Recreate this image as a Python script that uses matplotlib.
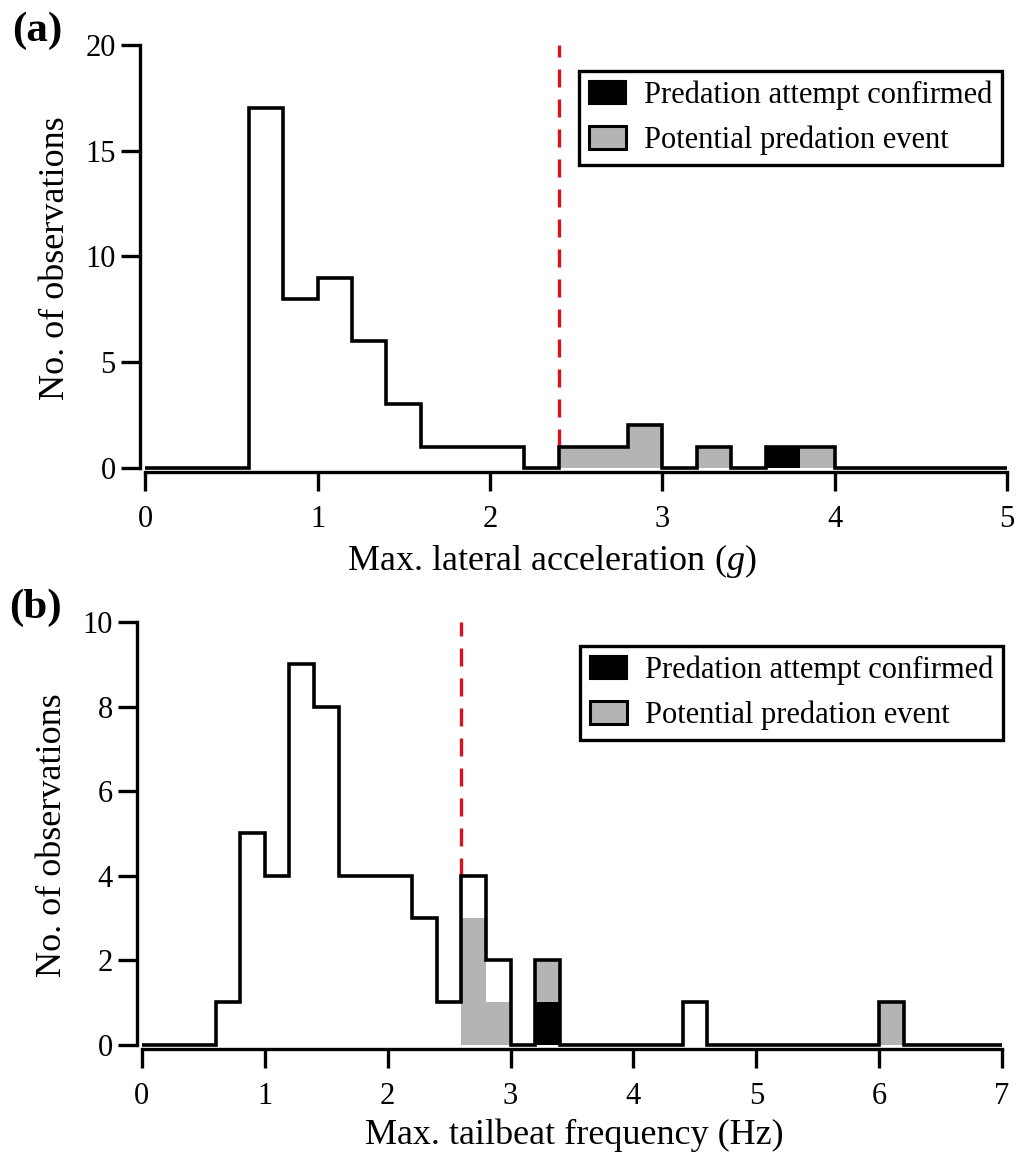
import numpy as np
import matplotlib
matplotlib.use("Agg")
import matplotlib.pyplot as plt
from matplotlib.patches import Patch

plt.rcParams['font.family'] = ['Liberation Serif', 'DejaVu Serif']
plt.rcParams['mathtext.fontset'] = 'custom'
plt.rcParams['mathtext.rm'] = 'Liberation Serif'
plt.rcParams['mathtext.it'] = 'Liberation Serif:italic'

# bin width shared by both histograms
bin_w = 0.2

# (a) max lateral acceleration, bins of 0.2 g from 0 to 5
total_a = [0, 0, 0, 17, 8, 9, 6, 3, 1, 1, 1, 0, 1, 1, 2, 0, 1, 0, 1, 1, 0, 0, 0, 0, 0]
grey_a = [0, 0, 0, 0, 0, 0, 0, 0, 0, 0, 0, 0, 1, 1, 2, 0, 1, 0, 0, 1, 0, 0, 0, 0, 0]
black_a = [0, 0, 0, 0, 0, 0, 0, 0, 0, 0, 0, 0, 0, 0, 0, 0, 0, 0, 1, 0, 0, 0, 0, 0, 0]
thresh_a = 2.4

# (b) max tailbeat frequency, bins of 0.2 Hz from 0 to 7
total_b = [0, 0, 0, 1, 5, 4, 9, 8, 4, 4, 4, 3, 1, 4, 2, 0, 2, 0, 0, 0, 0, 0, 1, 0,
           0, 0, 0, 0, 0, 0, 1, 0, 0, 0, 0]
grey_b = [0, 0, 0, 0, 0, 0, 0, 0, 0, 0, 0, 0, 0, 3, 1, 0, 1, 0, 0, 0, 0, 0, 0, 0,
          0, 0, 0, 0, 0, 0, 1, 0, 0, 0, 0]
black_b = [0, 0, 0, 0, 0, 0, 0, 0, 0, 0, 0, 0, 0, 0, 0, 0, 1, 0, 0, 0, 0, 0, 0, 0,
           0, 0, 0, 0, 0, 0, 0, 0, 0, 0, 0]
thresh_b = 2.6

legend_labels = ["Predation attempt confirmed", "Potential predation event"]
GREY = "#b4b4b4"
RED = "#d8121f"


def draw_panel(ax, total, grey, black, thresh, xmax, ymax, yticks, xlabel, tag,
               xoff, yoff, leg_anchor, xlabel_x):
    total = np.array(total)
    grey = np.array(grey)
    black = np.array(black)
    edges = np.arange(len(total) + 1) * bin_w
    left = edges[:-1]
    # black at the bottom, grey stacked above it
    ax.bar(left, black, width=bin_w, align='edge', color='black', linewidth=0)
    ax.bar(left, grey, width=bin_w, bottom=black, align='edge', color=GREY, linewidth=0)
    ax.stairs(total, edges, baseline=0, color='black', linewidth=2.6, zorder=3)

    # threshold line from top of axis down to the bar top
    top_here = total[int(round(thresh / bin_w))]
    ax.plot([thresh, thresh], [top_here, ymax], color=RED, linewidth=2.4,
            linestyle=(0, (5.4, 3.6)), zorder=2)

    ax.set_xlim(-xoff, xmax)
    ax.set_ylim(-yoff, ymax)
    ax.set_yticks(yticks)
    ax.set_xticks(range(0, int(xmax) + 1))
    for s in ['top', 'right']:
        ax.spines[s].set_visible(False)
    ax.spines['left'].set_bounds(0, ymax)
    ax.spines['bottom'].set_bounds(0, xmax)
    for s in ['left', 'bottom']:
        ax.spines[s].set_linewidth(2.4)
    ax.tick_params(direction='out', length=13.5, width=2.4, labelsize=22)
    ax.tick_params(axis='x', pad=10)
    ax.tick_params(axis='y', pad=4)
    ax.set_xlabel(xlabel, fontsize=26, labelpad=6)
    ax.xaxis.label.set_x(xlabel_x)
    ax.set_ylabel("No. of observations", fontsize=26)
    ax.yaxis.set_label_coords(-0.079, 0.5)
    ax.text(-0.148, 1.033, tag, transform=ax.transAxes, fontsize=31,
            fontweight='bold', ha='left', va='center')

    handles = [Patch(facecolor='black', edgecolor='black', linewidth=1.5),
               Patch(facecolor=GREY, edgecolor='black', linewidth=2.2)]
    leg = ax.legend(handles, legend_labels, loc='upper right',
                    bbox_to_anchor=leg_anchor, bbox_transform=ax.figure.transFigure,
                    borderaxespad=0, fontsize=22, fancybox=False, framealpha=1,
                    handlelength=1.2, handleheight=0.75, handletextpad=0.6,
                    borderpad=0.32, labelspacing=0.5)
    leg.get_frame().set_edgecolor('black')
    leg.get_frame().set_linewidth(2.4)


W, H = 1018, 1158
fig = plt.figure(figsize=(W / 100, H / 100), dpi=100)

ax_a = fig.add_axes([140 / W, 1 - 472 / H, (1007 - 140) / W, (472 - 45) / H])
draw_panel(ax_a, total_a, grey_a, black_a, thresh_a, 5, 20, [0, 5, 10, 15, 20],
           "Max. lateral acceleration ($\\mathit{g}$)", "(a)", 0.03, 0.2,
           (1002 / W, 1 - 71 / H), 0.475)

ax_b = fig.add_axes([137 / W, 1 - 1049 / H, (1002 - 137) / W, (1049 - 622) / H])
draw_panel(ax_b, total_b, grey_b, black_b, thresh_b, 7, 10, [0, 2, 4, 6, 8, 10],
           "Max. tailbeat frequency (Hz)", "(b)", 0.04, 0.1,
           (1003 / W, 1 - 646 / H), 0.505)

fig.savefig("out.png", dpi=100)
